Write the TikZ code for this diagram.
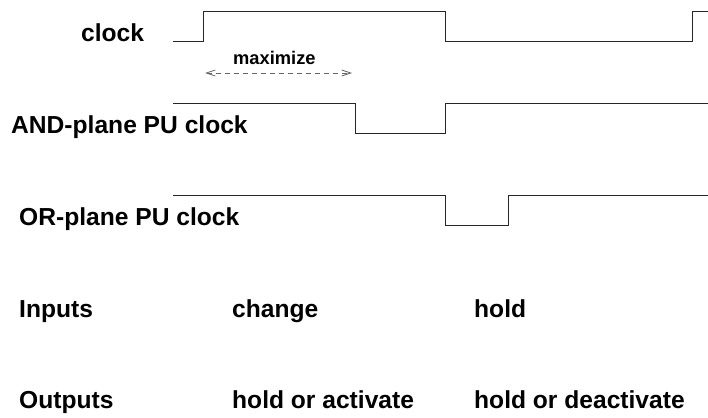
\documentclass[tikz,border=0pt]{standalone}
\usepackage{fontspec}
\setmainfont{Liberation Sans}
\usetikzlibrary{arrows.meta}
\begin{document}
\begin{tikzpicture}[x=1pt,y=-1pt,
  lbl/.style={anchor=base west,inner sep=0pt,font=\fontsize{24.6}{27}\selectfont\bfseries},
  small/.style={anchor=base west,inner sep=0pt,font=\fontsize{18.3}{21}\selectfont\bfseries},
  wave/.style={line width=1pt,black!85},
  dim/.style={line width=0.8pt,black!60,dash pattern=on 5pt off 4pt,
    {Straight Barb[open,length=9pt,width=6pt]}-{Straight Barb[open,length=9pt,width=6pt]}}]
\useasboundingbox (0,0) rectangle (708,417);
% labels
\node[lbl] (lclk) at (81,42) {clock};
\node[lbl] (land) at (11,133) {AND-plane PU clock};
\node[lbl] (lor) at (19,225) {OR-plane PU clock};
\node[lbl] (lin) at (19,317) {Inputs};
\node[lbl] (lchg) at (232,317) {change};
\node[lbl] (lhold) at (474,317) {hold};
\node[lbl] (lout) at (19,408) {Outputs};
\node[lbl] (lact) at (232,408) {hold or activate};
\node[lbl] (ldeact) at (474,408) {hold or deactivate};
\node[small] (lmax) at (233,65) {maximize};
% waveforms
\draw[wave] (173,42) -- (203,42) -- (203,12) -- (445,12) -- (445,42) -- (692,42) -- (692,12) -- (708,12);
\draw[wave] (173,103) -- (355,103) -- (355,133) -- (445,133) -- (445,103) -- (708,103);
\draw[wave] (173,195) -- (445,195) -- (445,225) -- (508,225) -- (508,195) -- (708,195);
% maximize arrow
\coordinate (ma) at (205,73);
\coordinate (mb) at (352,73);
\draw[dim] (ma) -- (mb);
\end{tikzpicture}
\end{document}
